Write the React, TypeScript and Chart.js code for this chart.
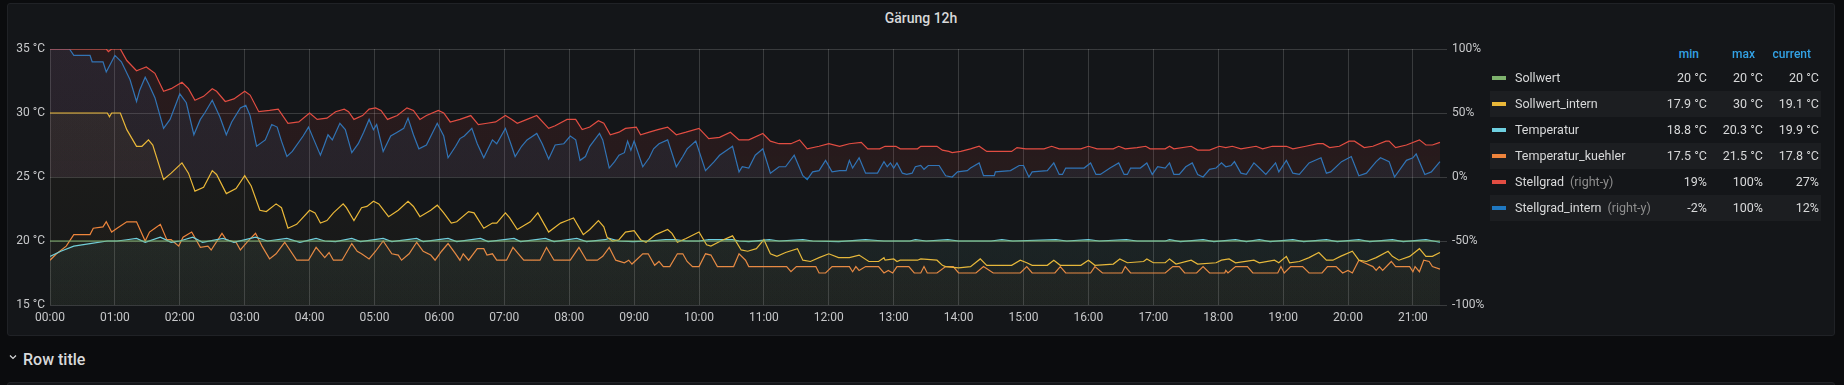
import React, { useEffect, useRef } from "react";
import { Chart, registerables } from "chart.js";
Chart.register(...registerables);

// x values are minutes since 00:00
const hourLabels = ["00:00","01:00","02:00","03:00","04:00","05:00","06:00","07:00","08:00","09:00","10:00","11:00","12:00","13:00","14:00","15:00","16:00","17:00","18:00","19:00","20:00","21:00"];
const xMaxMinutes = 1291.5;
const leftTicks = [15, 20, 25, 30, 35];
const rightTicks = [-100, -50, 0, 50, 100];

const sollwert: [number, number][] = [[0, 20], [1285, 20]];

const sollwertIntern: [number, number][] = [
  [0,30],[53,30],[55,29.7],[57,30],[65,30],[71,28.7],[80,27.4],[85,27.4],[91,27.9],[95,27.5],
  [105,24.8],[112,25.3],[122,26.1],[128,25.3],[134,23.9],[142,24.2],[150,25.5],[154,25.2],[163,23.7],[172,24.1],
  [180,25.1],[186,24.3],[194,22.4],[200,22.3],[209,22.9],[214,22.6],[220,21.0],[228,21.3],[240,22.4],[245,22.2],
  [250,21.4],[256,21.6],[262,22.2],[271,22.9],[274,22.6],[281,21.6],[288,22.6],[293,22.7],[299,23.1],[304,22.9],
  [313,21.9],[322,22.4],[331,23.1],[336,22.7],[342,21.9],[352,22.4],[358,22.8],[364,22.2],[371,21.4],[376,21.5],
  [387,22.3],[392,22.2],[401,21.0],[409,21.4],[413,21.4],[421,22.2],[425,21.8],[432,20.9],[444,21.5],[451,22.2],
  [461,20.7],[472,21.4],[478,21.6],[484,21.8],[493,20.5],[499,20.9],[507,21.6],[512,21.1],[515,20.3],[520,20.0],
  [526,20.1],[532,20.7],[540,20.8],[546,20.1],[551,19.9],[560,20.5],[571,20.9],[575,20.6],[580,19.9],[588,20.2],
  [600,20.7],[607,19.7],[611,19.6],[620,20.0],[631,20.4],[639,19.3],[645,19.2],[653,19.4],[660,20.1],[666,19.0],
  [672,18.8],[680,19.1],[691,19.4],[696,18.5],[703,18.4],[711,18.7],[720,19.0],[729,18.7],[739,18.7],[748,18.9],
  [757,18.4],[766,18.4],[771,18.7],[772,18.5],[780,18.6],[783,18.4],[786,18.5],[802,18.5],[805,18.6],[820,18.5],
  [825,18.1],[828,18.0],[840,17.9],[851,18.0],[860,18.6],[866,18.1],[889,18.1],[897,18.5],[903,18.3],[908,18.1],
  [922,18.1],[928,18.5],[934,18.1],[953,18.1],[960,18.5],[966,18.1],[983,18.2],[989,18.6],[996,18.3],[1011,18.4],
  [1014,18.6],[1020,18.3],[1031,18.3],[1035,18.6],[1041,18.2],[1055,18.5],[1061,18.2],[1078,18.3],[1083,18.5],[1090,18.6],
  [1096,18.3],[1113,18.5],[1118,18.3],[1132,18.5],[1136,18.3],[1143,18.8],[1146,18.3],[1155,18.4],[1164,18.7],[1173,19.1],
  [1180,18.5],[1186,18.5],[1193,18.8],[1204,19.2],[1210,18.5],[1217,18.4],[1226,18.7],[1237,19.2],[1241,18.8],[1247,18.5],
  [1257,18.8],[1266,19.4],[1272,18.8],[1278,18.8],[1285,19.1]
];

const temperatur: [number, number][] = [
  [0,18.8],[10,19.2],[22,19.6],[37,19.8],[53,20.0],[62,20.0],[71,20.1],[80,20.2],[88,19.9],[102,20.3],
  [112,19.9],[120,20.0],[132,20.3],[141,19.9],[160,20.2],[170,19.9],[190,20.3],[201,20.0],[219,20.2],[231,19.9],
  [246,20.2],[254,20.0],[264,19.95],[279,20.2],[287,19.95],[308,20.2],[316,19.95],[339,20.2],[345,19.95],[368,20.2],
  [376,19.95],[398,20.2],[405,19.95],[429,20.2],[435,19.95],[458,20.2],[466,19.95],[487,20.2],[496,19.95],[513,20.1],
  [517,20.2],[526,20.0],[539,19.95],[554,20.0],[569,20.1],[578,20.1],[588,20.0],[600,20.0],[609,20.1],[619,20.1],
  [631,20.1],[637,20.0],[646,19.95],[665,20.1],[674,20.0],[696,20.1],[705,20.0],[729,19.95],[754,20.1],[771,20.0],
  [795,20.0],[800,20.1],[810,20.0],[830,20.1],[840,20.0],[870,20.0],[880,20.1],[890,20.0],[930,20.1],[940,20.0],
  [960,20.1],[970,20.0],[995,20.1],[1005,20.0],[1031,20.0],[1035,20.1],[1045,19.95],[1066,20.1],[1076,19.95],[1096,20.1],
  [1106,19.95],[1118,20.1],[1128,19.95],[1149,20.1],[1159,19.95],[1180,20.1],[1190,19.95],[1210,20.1],[1220,19.95],[1241,20.1],
  [1251,19.95],[1272,20.1],[1285,19.9]
];

const temperaturKuehler: [number, number][] = [
  [0,18.5],[6,19.0],[15,19.6],[22,20.5],[37,20.5],[40,21.0],[49,21.1],[52,21.5],[57,20.7],[62,21.0],
  [71,21.5],[80,21.5],[88,20.0],[92,20.7],[97,21.0],[102,21.3],[108,20.1],[112,20.1],[119,19.6],[123,20.3],
  [131,20.7],[139,19.5],[146,19.6],[149,19.3],[159,20.6],[163,20.1],[172,19.9],[176,19.3],[182,19.9],[190,20.6],
  [196,19.6],[203,18.6],[209,19.0],[217,19.9],[228,18.5],[239,18.5],[246,19.5],[254,18.7],[258,19.1],[262,18.5],
  [270,18.5],[279,19.8],[284,19.2],[288,19.0],[295,18.6],[301,19.2],[308,20.0],[316,19.0],[322,18.9],[325,18.5],
  [332,19.0],[339,19.9],[345,19.2],[352,18.9],[356,18.5],[362,19.2],[368,19.8],[375,19.0],[379,18.5],[382,19.0],
  [387,18.5],[395,19.4],[401,19.4],[404,18.9],[409,19.0],[413,18.5],[422,18.5],[428,19.5],[435,18.8],[438,18.5],
  [453,18.5],[459,19.5],[466,18.5],[481,18.5],[489,19.5],[496,18.5],[506,18.5],[511,18.8],[517,19.5],[523,18.5],
  [531,18.3],[535,18.5],[538,18.2],[548,19.0],[553,19.0],[559,18.1],[563,18.4],[567,18.0],[573,18.0],[580,19.0],
  [585,19.0],[589,18.4],[594,18.0],[600,18.0],[606,19.0],[611,18.9],[617,18.0],[632,18.0],[637,19.0],[643,18.5],
  [646,18.0],[681,18.0],[685,17.6],[690,18.0],[708,18.0],[711,17.5],[717,17.5],[723,18.0],[739,18.0],[742,17.6],
  [745,18.0],[748,17.7],[754,18.0],[766,18.0],[771,17.5],[775,17.7],[779,17.5],[783,18.0],[794,18.0],[799,17.5],
  [805,17.5],[808,18.0],[811,17.5],[820,17.5],[828,18.0],[835,18.0],[840,17.5],[856,17.5],[863,18.0],[872,17.5],
  [897,17.5],[903,18.0],[908,17.5],[929,17.5],[934,18.0],[939,17.5],[962,17.5],[966,18.0],[973,17.5],[991,17.5],
  [994,18.0],[999,17.5],[1031,17.5],[1038,18.0],[1044,18.0],[1049,17.5],[1060,17.5],[1066,18.0],[1072,17.5],[1086,17.5],
  [1087,17.7],[1089,17.5],[1096,18.0],[1107,18.0],[1112,17.5],[1135,17.5],[1138,18.0],[1141,17.5],[1147,18.0],[1158,18.0],
  [1164,17.5],[1176,17.5],[1181,18.0],[1189,18.0],[1195,17.5],[1200,17.7],[1204,17.5],[1210,18.5],[1215,18.3],[1223,18.0],
  [1226,17.7],[1229,18.0],[1232,17.7],[1240,18.4],[1244,18.0],[1257,18.0],[1260,17.6],[1262,18.0],[1266,17.6],[1270,18.5],
  [1275,18.4],[1278,18.0],[1285,17.8]
];

const stellgrad: [number, number][] = [
  [0,100],[52,100],[54,98],[57,100],[65,100],[71,91],[80,83],[83,84],[89,86],[97,81],
  [105,67],[112,69],[122,74],[128,69],[134,60],[142,63],[150,69],[154,67],[162,59],[170,61],
  [180,67],[185,64],[193,51],[203,52],[211,53],[220,42],[230,43],[240,50],[247,45],[256,46],
  [264,51],[272,53],[276,51],[281,45],[289,48],[295,53],[301,54],[306,52],[312,45],[321,48],
  [330,54],[336,52],[342,45],[348,48],[359,52],[364,50],[370,43],[379,45],[389,48],[396,41],
  [404,42],[412,43],[421,48],[427,45],[432,42],[441,45],[450,48],[461,38],[467,40],[478,45],
  [486,45],[492,37],[499,39],[507,44],[512,42],[518,33],[526,35],[532,38],[542,39],[546,33],
  [554,35],[562,37],[571,39],[579,33],[588,35],[600,38],[609,30],[619,31],[629,35],[637,29],
  [646,29],[659,34],[666,28],[674,26],[685,26],[693,29],[700,22],[711,24],[720,26],[730,24],
  [739,26],[750,27],[756,22],[767,22],[772,24],[782,24],[786,22],[802,22],[805,24],[820,24],
  [825,21],[831,20],[834,19],[842,20],[851,22],[859,24],[866,20],[889,20],[894,23],[902,22],
  [919,22],[926,24],[933,22],[953,22],[960,24],[968,22],[983,22],[988,24],[994,22],[1005,23],
  [1013,24],[1017,22],[1031,22],[1035,24],[1039,22],[1055,24],[1061,21],[1072,21],[1081,24],[1087,23],
  [1093,24],[1101,22],[1115,24],[1121,22],[1130,24],[1143,24],[1149,22],[1161,24],[1172,26],[1177,26],
  [1183,23],[1192,24],[1201,28],[1206,28],[1215,23],[1223,24],[1235,28],[1238,28],[1244,23],[1254,25],
  [1266,29],[1272,25],[1278,25],[1285,27]
];

const stellgradIntern: [number, number][] = [
  [0,100],[18,100],[22,95],[37,95],[39,90],[49,90],[52,82],[60,95],[66,90],[74,76],
  [80,59],[83,68],[88,78],[91,73],[97,62],[105,38],[111,45],[116,56],[120,65],[126,58],
  [133,33],[139,45],[143,50],[150,60],[157,47],[163,33],[168,43],[176,54],[181,56],[185,48],
  [191,24],[199,29],[205,41],[210,39],[214,28],[219,16],[224,20],[234,32],[239,39],[244,29],
  [250,17],[254,26],[257,33],[261,29],[268,42],[273,37],[279,19],[285,26],[290,35],[295,45],
  [299,37],[302,41],[308,20],[315,32],[321,35],[327,38],[331,46],[336,33],[341,22],[348,25],
  [358,42],[364,32],[368,15],[375,24],[379,30],[383,32],[390,38],[395,26],[401,15],[405,22],
  [409,29],[413,26],[421,38],[426,26],[430,16],[436,24],[441,29],[450,34],[455,26],[461,14],
  [467,25],[475,26],[481,32],[486,29],[490,13],[495,16],[499,24],[508,34],[511,29],[517,7],
  [522,12],[526,17],[531,19],[534,28],[537,21],[540,28],[548,8],[554,15],[558,22],[563,26],
  [571,29],[579,8],[585,16],[589,22],[597,28],[606,5],[614,12],[619,17],[631,24],[637,4],
  [640,8],[646,7],[652,17],[659,22],[666,3],[674,8],[680,8],[688,17],[696,1],[700,-2],
  [705,4],[711,5],[717,13],[723,4],[730,5],[736,5],[739,13],[742,7],[748,15],[754,3],
  [765,3],[771,12],[774,8],[777,11],[780,7],[783,11],[788,3],[792,2],[797,3],[800,8],
  [805,9],[808,6],[812,9],[822,9],[828,1],[834,0],[839,4],[848,5],[851,7],[859,11],
  [863,1],[873,1],[874,4],[888,5],[896,9],[900,9],[905,0],[908,4],[922,5],[928,11],
  [933,2],[936,2],[939,7],[956,7],[962,11],[967,2],[971,2],[980,7],[988,11],[993,2],
  [996,2],[999,7],[1008,7],[1014,11],[1019,2],[1024,8],[1031,7],[1035,11],[1039,2],[1044,2],
  [1050,8],[1056,11],[1061,2],[1066,0],[1072,6],[1078,7],[1083,11],[1087,8],[1092,9],[1095,12],
  [1101,3],[1106,2],[1113,11],[1118,7],[1124,2],[1133,11],[1136,4],[1143,13],[1149,3],[1155,2],
  [1164,11],[1175,15],[1180,3],[1184,4],[1194,12],[1203,16],[1210,1],[1217,3],[1226,12],[1230,15],
  [1238,12],[1243,0],[1254,13],[1260,15],[1263,18],[1271,2],[1277,4],[1285,12]
];

const legendNames = ["Sollwert", "Sollwert_intern", "Temperatur", "Temperatur_kuehler", "Stellgrad", "Stellgrad_intern"];
const legendAxis = ["", "", "", "", "(right-y)", "(right-y)"];
const legendMin = ["20 °C", "17.9 °C", "18.8 °C", "17.5 °C", "19%", "-2%"];
const legendMax = ["20 °C", "30 °C", "20.3 °C", "21.5 °C", "100%", "100%"];
const legendCurrent = ["20 °C", "19.1 °C", "19.9 °C", "17.8 °C", "27%", "12%"];
const seriesColors = ["#7EB26D", "#EAB839", "#6ED0E0", "#EF843C", "#E24D42", "#1F78C1"];
const fillTop = [0.07, 0.05, 0.07, 0.04, 0.1, 0.1];
const fillBottom = [0.03, 0.015, 0.03, 0.012, 0.08, 0.08];

function hexA(hex: string, a: number) {
  const n = parseInt(hex.slice(1), 16);
  return `rgba(${(n >> 16) & 255},${(n >> 8) & 255},${n & 255},${a})`;
}

export default function App() {
  const ref = useRef<HTMLCanvasElement | null>(null);

  useEffect(() => {
    if (!ref.current) return;
    const series = [sollwert, sollwertIntern, temperatur, temperaturKuehler, stellgrad, stellgradIntern];
    const tickColor = "#c7c8ca";
    const gridColor = "rgba(255,255,255,0.16)";
    const font = { family: "Roboto, sans-serif", size: 12 };
    const chart = new Chart(ref.current, {
      type: "line",
      data: {
        datasets: series.map((s, i) => ({
          label: legendNames[i],
          data: s.map(([t, v]) => ({ x: t, y: v })),
          yAxisID: i >= 4 ? "y1" : "y",
          borderColor: seriesColors[i],
          borderWidth: 1.2,
          pointRadius: 0,
          tension: 0,
          fill: "origin",
          backgroundColor: (ctx: any) => {
            const area = ctx.chart.chartArea;
            if (!area) return hexA(seriesColors[i], fillTop[i]);
            const g = ctx.chart.ctx.createLinearGradient(0, area.top, 0, area.bottom);
            g.addColorStop(0, hexA(seriesColors[i], fillTop[i]));
            g.addColorStop(1, hexA(seriesColors[i], fillBottom[i]));
            return g;
          },
        })),
      },
      options: {
        animation: false,
        responsive: false,
        maintainAspectRatio: false,
        layout: { padding: { top: 19, left: 0, right: 0, bottom: 0 } },
        plugins: { legend: { display: false }, tooltip: { enabled: false }, title: { display: false } },
        scales: {
          x: {
            type: "linear",
            min: 0,
            max: xMaxMinutes,
            afterBuildTicks: (s: any) => {
              s.ticks = hourLabels.map((_, i) => ({ value: i * 60 }));
            },
            afterFit: (s: any) => { s.height = 25; },
            ticks: {
              color: tickColor,
              font,
              padding: 6,
              maxRotation: 0,
              autoSkip: false,
              callback: (v: any) => hourLabels[Math.round(Number(v) / 60)] ?? "",
            },
            grid: { color: gridColor, drawTicks: false },
            border: { display: false },
          },
          y: {
            position: "left",
            min: 15,
            max: 35,
            afterBuildTicks: (s: any) => { s.ticks = leftTicks.map((v) => ({ value: v })); },
            afterFit: (s: any) => { s.width = 50; },
            ticks: { color: tickColor, font, padding: 5, callback: (v: any) => `${v} °C` },
            grid: { color: gridColor, drawTicks: false },
            border: { display: false },
          },
          y1: {
            position: "right",
            min: -100,
            max: 100,
            afterBuildTicks: (s: any) => { s.ticks = rightTicks.map((v) => ({ value: v })); },
            afterFit: (s: any) => { s.width = 53; },
            ticks: { color: tickColor, font, padding: 5, callback: (v: any) => `${v}%` },
            grid: { display: false, drawTicks: false },
            border: { display: false },
          },
        },
      },
    } as any);
    return () => chart.destroy();
  }, []);

  const rowCenter = (i: number) => 77.5 + 26 * i;

  return (
    <div style={{ position: "fixed", left: 0, top: 0, width: 1844, height: 385, background: "#0b0c0e", overflow: "hidden", fontFamily: "Roboto, sans-serif", color: "#d8d9da" }}>
      <div style={{ position: "absolute", left: 7, top: 3, width: 1826, height: 331, background: "#141619", border: "1px solid #202226", borderRadius: 3 }} />
      <div style={{ position: "absolute", left: 7, top: 10, width: 1828, textAlign: "center", fontSize: 14, fontWeight: 500, lineHeight: "16px" }}>Gärung 12h</div>
      <canvas ref={ref} width={1500} height={300} style={{ position: "absolute", left: 0, top: 30, width: 1500, height: 300 }} />
      {[["min", 1699], ["max", 1755], ["current", 1811]].map(([t, r]) => (
        <div key={t as string} style={{ position: "absolute", right: 1844 - (r as number), top: 46, fontSize: 12, fontWeight: 500, color: "#33a2e5", lineHeight: "16px" }}>{t}</div>
      ))}
      {legendNames.map((n, i) => {
        const c = rowCenter(i);
        return (
          <React.Fragment key={n}>
            {i % 2 === 1 && <div style={{ position: "absolute", left: 1490, top: c - 13, width: 331, height: 26, background: "rgba(255,255,255,0.035)" }} />}
            <div style={{ position: "absolute", left: 1492, top: c - 2, width: 14, height: 4, background: seriesColors[i] }} />
            <div style={{ position: "absolute", left: 1515, top: c - 8, fontSize: 12.5, lineHeight: "16px", whiteSpace: "nowrap" }}>
              {n}{legendAxis[i] && <span style={{ color: "#8e8e8e", marginLeft: 6 }}>{legendAxis[i]}</span>}
            </div>
            <div style={{ position: "absolute", right: 1844 - 1707, top: c - 8, fontSize: 12.5, lineHeight: "16px" }}>{legendMin[i]}</div>
            <div style={{ position: "absolute", right: 1844 - 1763, top: c - 8, fontSize: 12.5, lineHeight: "16px" }}>{legendMax[i]}</div>
            <div style={{ position: "absolute", right: 1844 - 1819, top: c - 8, fontSize: 12.5, lineHeight: "16px" }}>{legendCurrent[i]}</div>
          </React.Fragment>
        );
      })}
      <svg style={{ position: "absolute", left: 9, top: 354 }} width={8} height={6} viewBox="0 0 8 6">
        <path d="M1 1.5 L4 4.5 L7 1.5" stroke="#d8d9da" strokeWidth={1.2} fill="none" />
      </svg>
      <div style={{ position: "absolute", left: 23, top: 350, fontSize: 16, fontWeight: 500, lineHeight: "20px", color: "#d8d9da" }}>Row title</div>
      <div style={{ position: "absolute", left: 7, top: 382, width: 1826, height: 10, background: "#141619", border: "1px solid #202226", borderRadius: 3 }} />
    </div>
  );
}
